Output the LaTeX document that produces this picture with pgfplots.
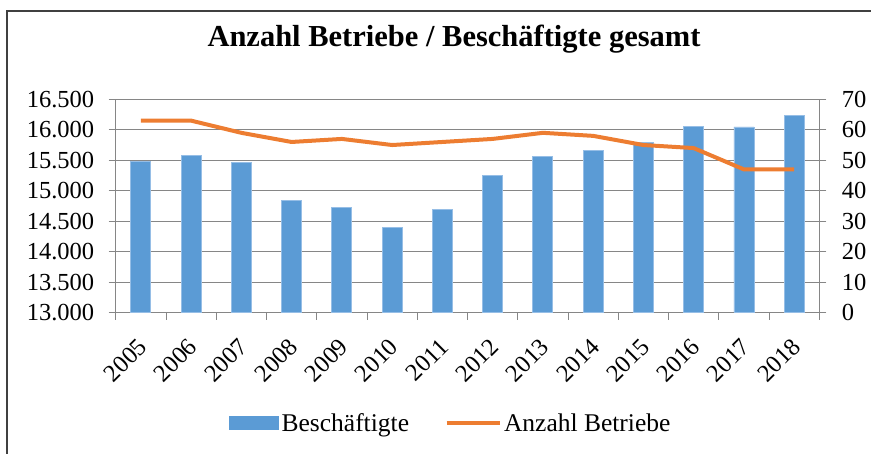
\documentclass[border=0pt]{standalone}
\usepackage{fontspec}
\setmainfont{Liberation Serif}
\usepackage{pgfplots}
\pgfplotsset{compat=1.18}
\definecolor{barblue}{RGB}{91,155,213}
\definecolor{baredge}{RGB}{150,190,230}
\definecolor{lineorange}{RGB}{237,125,49}
\definecolor{gridgray}{RGB}{134,134,134}
\definecolor{framegray}{RGB}{64,64,64}
\newcommand{\tf}{\fontsize{24.5}{29}\selectfont}
\newcommand{\lf}{\fontsize{25.5}{30}\selectfont}
\begin{document}
\begin{tikzpicture}[x=1pt,y=1pt]
\useasboundingbox (0,0) rectangle (871,454);
\draw[framegray, line width=1.5pt] (7,-10) -- (7,443) -- (880,443);
\node[font=\fontsize{30.5}{36}\selectfont\bfseries, anchor=base] at (454,407) {Anzahl Betriebe / Beschäftigte gesamt};
\begin{axis}[
  at={(115.7pt,141.3pt)}, anchor=south west, scale only axis,
  width=703.6pt, height=213.4pt,
  xmin=-0.5, xmax=13.5, ymin=13000, ymax=16500,
  ytick={13000,13500,...,16500},
  scaled y ticks=false,
  axis y line*=left, axis x line*=bottom,
  axis line style={gridgray, line width=0.8pt, -},
  ymajorgrids, grid style={gridgray, line width=0.8pt},
  tick align=outside, major tick length=7pt,
  tick style={gridgray, line width=0.8pt},
  xtick={-0.5,0.5,...,13.5}, xticklabels={},
  extra x ticks={0,1,...,13},
  extra x tick labels={2005,2006,2007,2008,2009,2010,2011,2012,2013,2014,2015,2016,2017,2018},
  extra x tick style={major tick length=0pt, grid=none,
    xticklabel style={xshift=-4pt, yshift=-24pt, rotate=45, anchor=north east, inner sep=0pt}},
  tick label style={font=\tf},
  yticklabel style={xshift=-11pt},
  /pgf/number format/1000 sep={.},
  /pgf/number format/assume math mode=true,
  legend style={at={(axis description cs:0.4766,-0.5169)}, anchor=center,
    draw=none, fill=none, font=\lf, legend columns=2,
    /tikz/every even column/.append style={column sep=33pt},
    nodes={inner sep=2.5pt}},
]
\addplot[ybar, bar width=20pt, fill=barblue, draw=baredge, line width=0.8pt,
  legend image code/.code={\draw[fill=barblue,draw=none] (0pt,-7pt) rectangle (50pt,7pt);}]
  coordinates {(0,15477) (1,15575) (2,15460) (3,14848) (4,14728) (5,14405) (6,14690)
  (7,15253) (8,15559) (9,15663) (10,15795) (11,16057) (12,16046) (13,16238)};
\addlegendentry{Beschäftigte}
\addlegendimage{legend image code/.code={\draw[lineorange,line width=4pt] (0pt,0pt) -- (53pt,0pt);}}
\addlegendentry{Anzahl Betriebe}
\end{axis}
\begin{axis}[
  at={(115.7pt,141.3pt)}, anchor=south west, scale only axis,
  width=703.6pt, height=213.4pt,
  xmin=-0.5, xmax=13.5, ymin=0, ymax=70,
  ytick={0,10,...,70},
  axis y line*=right, axis x line=none,
  axis line style={gridgray, line width=0.8pt, -},
  tick align=outside, major tick length=7pt,
  tick style={gridgray, line width=0.8pt},
  tick label style={font=\tf},
  yticklabel style={xshift=12pt},
  /pgf/number format/assume math mode=true,
]
\addplot[lineorange, line width=4pt, line join=round] coordinates {
  (0,63) (1,63) (2,59) (3,56) (4,57) (5,55) (6,56) (7,57) (8,59) (9,58)
  (10,55) (11,54) (12,47) (13,47)};
\end{axis}
\end{tikzpicture}
\end{document}
